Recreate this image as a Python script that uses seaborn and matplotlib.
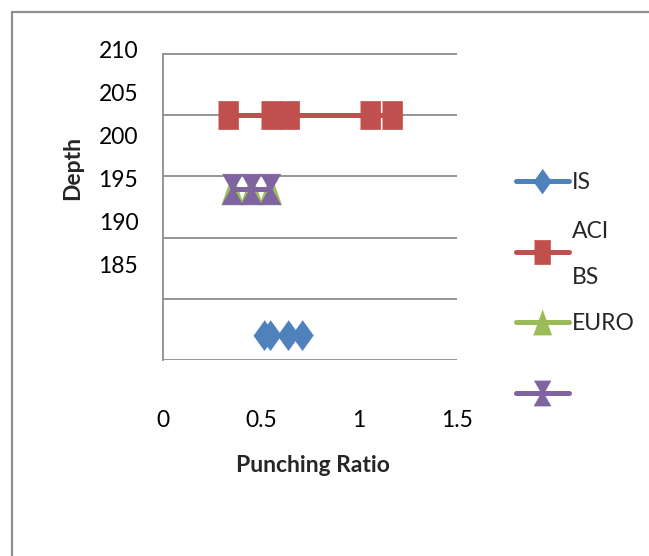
import numpy as np
import matplotlib
matplotlib.use("Agg")
import matplotlib.pyplot as plt
import seaborn as sns
from matplotlib.lines import Line2D
from matplotlib.ticker import FixedLocator, FixedFormatter, NullFormatter

# ---------------- data ----------------
series_names = ["IS", "ACI", "BS", "EURO"]
is_ratio = [0.515, 0.546, 0.639, 0.711]
is_depth = [176.9, 176.9, 176.9, 176.9]
aci_ratio = [0.332, 0.549, 0.641, 1.059, 1.168]
aci_depth = [202.4, 202.4, 202.4, 202.4, 202.4]
bs_ratio = [0.352, 0.450, 0.548]
bs_depth = [193.8, 193.8, 193.8]
euro_ratio = [0.351, 0.448, 0.546]
euro_depth = [193.8, 193.8, 193.8]

x_ticks = [0, 0.5, 1, 1.5]
x_tick_labels = ["0", "0.5", "1", "1.5"]
y_ticks = [210, 205, 200, 195, 190, 185]
y_tick_labels = ["210", "205", "200", "195", "190", "185"]
grid_levels = [173.95, 181.07, 188.18, 195.30, 202.41, 209.53]

# ---------------- style ----------------
sns.set_style("white")
plt.rcParams["font.family"] = ["Lato", "DejaVu Sans"]
FS = 16.5

colors = {"IS": "#4F81BD", "ACI": "#C0504D", "BS": "#9BBB59", "EURO": "#8064A2"}
diamond = [(0, 0.5), (0.36, 0), (0, -0.5), (-0.36, 0)]
square = [(-0.36, -0.5), (0.36, -0.5), (0.36, 0.5), (-0.36, 0.5)]
triangle = [(0, 0.5), (0.36, -0.5), (-0.36, -0.5)]
hourglass = [(-0.33, 0.5), (0.33, 0.5), (0.05, 0), (0.33, -0.5), (-0.33, -0.5), (-0.05, 0)]
markers = {"IS": diamond, "ACI": square, "BS": triangle, "EURO": hourglass}
msize = {"IS": 21.5, "ACI": 20.5, "BS": 22.0, "EURO": 22.0}

data = {
    "IS": (is_ratio, is_depth),
    "ACI": (aci_ratio, aci_depth),
    "BS": (bs_ratio, bs_depth),
    "EURO": (euro_ratio, euro_depth),
}

W, H = 649, 556
fig = plt.figure(figsize=(W / 100, H / 100), dpi=100)
ax = fig.add_axes([163.3 / W, 1 - 360 / H, 293.4 / W, 310 / H])

for name in series_names:
    xs, ys = data[name]
    c = colors[name]
    sns.lineplot(x=xs, y=ys, ax=ax, color=c, linewidth=3.6, sort=False,
                 estimator=None, legend=False, marker=markers[name],
                 markersize=msize[name], markeredgecolor=c,
                 markeredgewidth=0.5, markerfacecolor=c)

ax.set_xlim(0, 1.5)
ax.set_ylim(173.95, 210)

# axes styling
for s in ["top", "right", "bottom"]:
    ax.spines[s].set_visible(False)
ax.spines["left"].set_color("#8c8c8c")
ax.spines["left"].set_linewidth(1.3)
ax.spines["left"].set_bounds(grid_levels[0], grid_levels[-1])

ax.yaxis.set_major_locator(FixedLocator(y_ticks))
ax.yaxis.set_major_formatter(FixedFormatter(y_tick_labels))
ax.yaxis.set_minor_locator(FixedLocator(grid_levels))
ax.yaxis.set_minor_formatter(NullFormatter())
ax.grid(False)
ax.grid(True, axis="y", which="minor", color="#8c8c8c", linewidth=1.3)
ax.set_axisbelow(True)

ax.xaxis.set_major_locator(FixedLocator(x_ticks))
ax.xaxis.set_major_formatter(FixedFormatter(x_tick_labels))

ax.tick_params(axis="y", which="both", length=0, pad=18, labelsize=FS, colors="black")
ax.tick_params(axis="x", which="both", length=0, pad=36, labelsize=FS, colors="black")

ax.set_xlabel("Punching Ratio", fontsize=FS, fontweight="bold")
ax.set_ylabel("Depth", fontsize=FS, fontweight="bold")
ax.xaxis.set_label_coords(0.510, -0.305)
ax.yaxis.set_label_coords(-0.274, 0.618)

# legend
handles = [Line2D([], [], color=colors[n], linewidth=3.6, marker=markers[n],
                  markersize=msize[n] * 0.82, markeredgecolor=colors[n],
                  markeredgewidth=0.5, markerfacecolor=colors[n])
           for n in series_names]
fig.legend(handles, ["IS", " ", "EURO", " "], loc="upper left",
           bbox_to_anchor=(516 / W, 1 - 172 / H), frameon=False,
           borderpad=0, borderaxespad=0, handlelength=2.3,
           handletextpad=0.15, labelspacing=2.17, fontsize=FS)
fig.text(572 / W, 1 - 231 / H, "ACI", fontsize=FS, va="center", ha="left")
fig.text(572 / W, 1 - 277 / H, "BS", fontsize=FS, va="center", ha="left")

# outer chart border
bc = "#8f8f8f"
fig.add_artist(Line2D([12 / W, 12 / W], [0, 1 - 12 / H], transform=fig.transFigure,
                      color=bc, linewidth=1.6))
fig.add_artist(Line2D([12 / W, 1], [1 - 12 / H, 1 - 12 / H], transform=fig.transFigure,
                      color=bc, linewidth=1.6))

fig.savefig("out.png", dpi=100, facecolor="white")
